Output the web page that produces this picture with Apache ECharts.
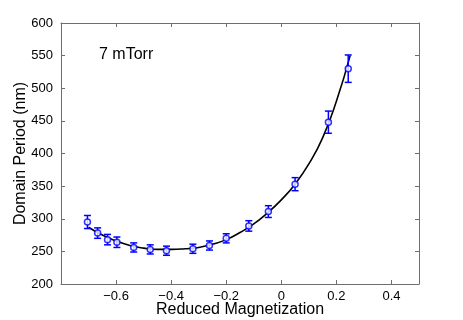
<!DOCTYPE html>
<html>
<head>
<meta charset="utf-8">
<script src="https://cdn.jsdelivr.net/npm/echarts@6/dist/echarts.min.js"></script>
<style>
html, body { margin: 0; padding: 0; background: #fff; }
#main { width: 463px; height: 320px; }
</style>
</head>
<body>
<div id="main"></div>
<script>
// measured points (reduced magnetization, period nm, error nm)
var magX = [-0.704, -0.667, -0.631, -0.597, -0.536, -0.476, -0.417, -0.321, -0.261, -0.200, -0.118, -0.047, 0.050, 0.171, 0.243];
var periodY = [295, 278, 268, 264, 256, 253, 251, 254, 259, 270, 289, 311, 353, 448, 530];
var errY = [10, 8, 8, 8, 7, 7, 7, 7, 7, 7, 8, 9, 10, 17, 21];

// fitted curve
var fitX = [-0.70, -0.65, -0.60, -0.55, -0.50, -0.45, -0.40, -0.35, -0.30, -0.25, -0.20, -0.15, -0.10, -0.05, 0.00, 0.05, 0.10, 0.15, 0.20, 0.25];
var fitY = [287, 275, 266, 259, 255, 253, 253, 254, 256, 261, 268, 279, 292, 309, 329, 353, 384, 424, 480, 550];

var xTicks = [-0.6, -0.4, -0.2, 0, 0.2, 0.4];

var pts = magX.map(function (x, i) { return [x, periodY[i]]; });
var bars = magX.map(function (x, i) { return [x, periodY[i] - errY[i], periodY[i] + errY[i]]; });
var fit = fitX.map(function (x, i) { return [x, fitY[i]]; });

var axisGrey = '#6e6e6e';
var font = 'Liberation Sans, Arial, sans-serif';

var myChart = echarts.init(document.getElementById('main'));

var option = {
    animation: false,
    backgroundColor: '#fff',
    grid: { left: 61, right: 44, top: 23, bottom: 36, containLabel: false, outerBoundsMode: 'none' },
    title: {
        text: '7 mTorr',
        left: 94, top: 42,
        textStyle: { fontFamily: font, fontSize: 16, fontWeight: 'normal', color: '#000' }
    },
    xAxis: [
        {
            type: 'value', min: -0.8, max: 0.5, interval: 0.2,
            name: 'Reduced Magnetization', nameLocation: 'middle', nameGap: 18,
            nameMoveOverlap: false,
            nameTextStyle: { fontFamily: font, fontSize: 16, color: '#000' },
            axisLine: { onZero: false, lineStyle: { color: axisGrey, width: 1 } },
            axisTick: { inside: true, length: 4, lineStyle: { color: axisGrey } },
            splitLine: { show: false },
            axisLabel: {
                margin: 6, fontFamily: font, fontSize: 13, color: '#000',
                showMaxLabel: false,
                formatter: function (v) {
                    var r = Math.round(v * 10) / 10;
                    if (xTicks.indexOf(r) < 0) return '';
                    return r < 0 ? '\u2212' + Math.abs(r).toFixed(1) : (r === 0 ? '0' : r.toFixed(1));
                }
            }
        },
        {
            type: 'value', position: 'top', min: -0.8, max: 0.5, interval: 0.2,
            axisLine: { onZero: false, lineStyle: { color: axisGrey, width: 1 } },
            axisTick: { inside: true, length: 4, lineStyle: { color: axisGrey } },
            axisLabel: { show: false }, splitLine: { show: false }
        }
    ],
    yAxis: [
        {
            type: 'value', min: 200, max: 600, interval: 50,
            name: 'Domain Period (nm)', nameLocation: 'middle', nameGap: 32,
            nameMoveOverlap: false,
            nameTextStyle: { fontFamily: font, fontSize: 16, color: '#000' },
            axisLine: { show: true, onZero: false, lineStyle: { color: axisGrey, width: 1 } },
            axisTick: { show: true, inside: true, length: 4, lineStyle: { color: axisGrey } },
            splitLine: { show: false },
            axisLabel: { margin: 8, fontFamily: font, fontSize: 13, color: '#000' }
        },
        {
            type: 'value', position: 'right', min: 200, max: 600, interval: 50,
            axisLine: { show: true, onZero: false, lineStyle: { color: axisGrey, width: 1 } },
            axisTick: { show: true, inside: true, length: 4, lineStyle: { color: axisGrey } },
            axisLabel: { show: false }, splitLine: { show: false }
        }
    ],
    series: [
        {
            name: 'fit', type: 'line', data: fit, smooth: true,
            showSymbol: false, symbol: 'none',
            lineStyle: { color: '#000', width: 1.6 }, z: 2
        },
        {
            name: 'err', type: 'custom', data: bars, z: 3,
            renderItem: function (params, api) {
                var x = api.value(0);
                var lo = api.coord([x, api.value(1)]);
                var hi = api.coord([x, api.value(2)]);
                var w = 3.5;
                var st = { stroke: '#0000ff', lineWidth: 1.5 };
                return {
                    type: 'group',
                    children: [
                        { type: 'line', shape: { x1: lo[0], y1: lo[1], x2: hi[0], y2: hi[1] }, style: st },
                        { type: 'line', shape: { x1: lo[0] - w, y1: lo[1], x2: lo[0] + w, y2: lo[1] }, style: st },
                        { type: 'line', shape: { x1: hi[0] - w, y1: hi[1], x2: hi[0] + w, y2: hi[1] }, style: st }
                    ]
                };
            }
        },
        {
            name: 'data', type: 'scatter', data: pts, z: 4,
            symbol: 'circle', symbolSize: 6,
            itemStyle: { color: '#fff', borderColor: '#0000ff', borderWidth: 1.5 }
        }
    ]
};

myChart.setOption(option);
</script>
</body>
</html>
